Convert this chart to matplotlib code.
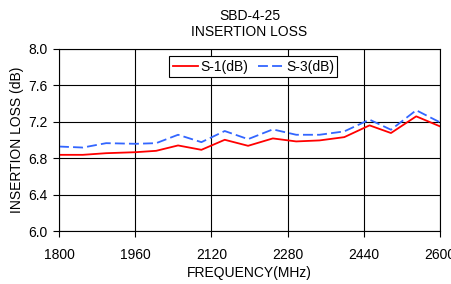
import matplotlib
matplotlib.use("Agg")
import matplotlib.pyplot as plt

freq = [1800, 1850, 1899, 1961, 2004, 2050, 2099, 2148, 2197, 2249, 2298, 2347, 2399, 2452, 2497, 2550, 2600]
s1 = [6.835, 6.835, 6.853, 6.864, 6.879, 6.938, 6.89, 7.0, 6.934, 7.015, 6.982, 6.993, 7.029, 7.158, 7.074, 7.257, 7.147]
s3 = [6.926, 6.915, 6.963, 6.956, 6.963, 7.055, 6.974, 7.096, 7.007, 7.114, 7.055, 7.055, 7.092, 7.221, 7.11, 7.324, 7.191]
xticks = [1800, 1960, 2120, 2280, 2440, 2600]
yticks = [6.0, 6.4, 6.8, 7.2, 7.6, 8.0]

plt.rcParams['font.family'] = ['Liberation Sans', 'DejaVu Sans']
fig = plt.figure(figsize=(4.52, 2.84), dpi=100)
ax = fig.add_axes([0.1305, 0.1866, 0.843, 0.6424])
ax.plot(freq, s1, color='#FF0000', lw=1.3, label='S-1(dB)')
ax.plot(freq, s3, color='#3366FF', lw=1.3, ls=(0, (5.5, 2.3)), label='S-3(dB)')
ax.set_xlim(1800, 2600)
ax.set_ylim(6.0, 8.0)
ax.set_xticks(xticks)
ax.set_yticks(yticks)
ax.set_yticklabels([f"{v:.1f}" for v in yticks])
ax.grid(True, color='black', lw=0.8)
ax.tick_params(direction='out', length=4, width=0.8, labelsize=10, colors='black')
ax.tick_params(axis='x', pad=8)
ax.tick_params(axis='y', pad=4)
for s in ax.spines.values():
    s.set_color('black')
    s.set_linewidth(0.8)
ax.set_xlabel('FREQUENCY(MHz)', fontsize=10, labelpad=3)
ax.set_ylabel('INSERTION LOSS (dB)', fontsize=10, labelpad=3.5)
ax.set_title('SBD-4-25\nINSERTION LOSS', fontsize=10, pad=9, linespacing=1.2)
leg = ax.legend(loc='upper center', bbox_to_anchor=(0.51, 0.995), ncol=2, fontsize=10,
                frameon=True, fancybox=False, edgecolor='black', framealpha=1,
                handlelength=1.8, columnspacing=0.7, borderpad=0.25, handletextpad=0.2)
leg.get_frame().set_linewidth(0.8)
fig.savefig('out.png', dpi=100)
